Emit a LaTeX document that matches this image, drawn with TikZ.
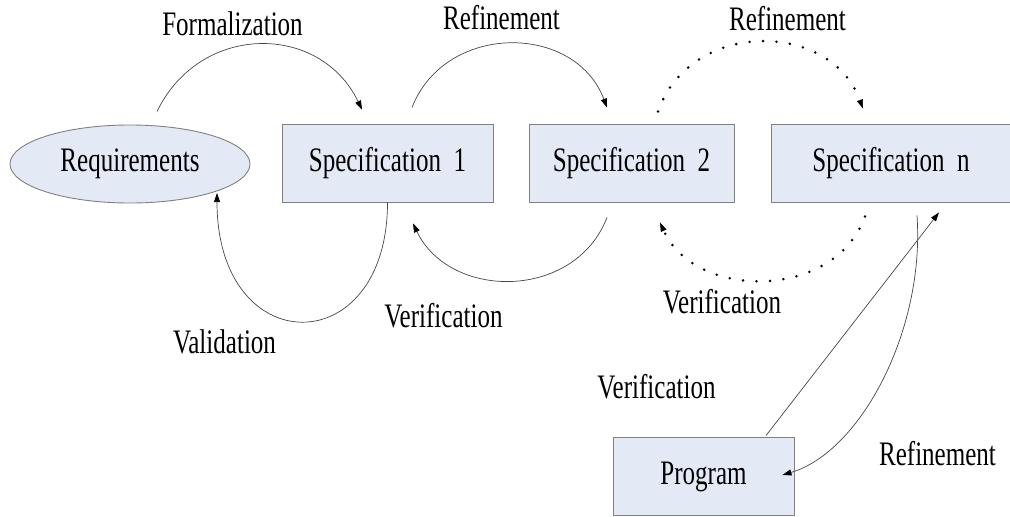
\documentclass[tikz,border=0pt]{standalone}
\usepackage{fontspec}
\setmainfont[FakeStretch=0.73]{Liberation Serif}
\usetikzlibrary{arrows.meta,shapes.geometric}
\definecolor{boxfill}{RGB}{228,234,245}
\definecolor{boxline}{RGB}{128,128,128}
\definecolor{arcline}{RGB}{70,70,70}
\tikzset{
  base/.style={font=\fontsize{34.3}{37}\selectfont, inner sep=0pt, text=black},
  stepbox/.style={base, rectangle, draw=boxline, line width=0.9pt, fill=boxfill},
  reqbox/.style={base, ellipse, draw=boxline, line width=0.9pt, fill=boxfill, minimum width=240pt, minimum height=78pt},
  lbl/.style={base, anchor=base},
  arr/.style={draw=arcline, line width=0.7pt, -{Triangle[length=9pt,width=6pt,black]}},
  dotarr/.style={draw=black, line width=2.8pt, line cap=round, dash pattern=on 0pt off 13.5pt,
     -{Triangle[length=9pt,width=6pt,line width=0.5pt,black]}},
}
\begin{document}
\begin{tikzpicture}[x=1pt,y=-1pt]
\useasboundingbox (0,0) rectangle (1010,517);
% nodes
\node[reqbox] (req) at (130,164) {Requirements};
\node[stepbox, minimum width=211pt, minimum height=78pt] (s1) at (387.5,163) {Specification\ \ 1};
\node[stepbox, minimum width=205pt, minimum height=78pt] (s2) at (631.5,163) {Specification\ \ 2};
\node[stepbox, minimum width=240pt, minimum height=78pt] (sn) at (891,163) {Specification\ \ n};
\node[stepbox, minimum width=181pt, minimum height=78pt] (prog) at (703.5,476.5) {Program};
% labels
\node[lbl] (lf) at (232.5,35) {Formalization};
\node[lbl] (lr1) at (501.5,29) {Refinement};
\node[lbl] (lr2) at (787.5,30) {Refinement};
\node[lbl] (lval) at (224.5,353) {Validation};
\node[lbl] (lv1) at (443.5,327) {Verification};
\node[lbl] (lv2) at (722,313) {Verification};
\node[lbl] (lv3) at (656.5,398) {Verification};
\node[lbl] (lr3) at (937.5,465) {Refinement};
% connector end points
\coordinate (f1) at ([shift={(27,-13)}]req.north);
\coordinate (f2) at ([shift={(-25.5,-14)}]s1.north);
\coordinate (r1a) at ([shift={(24.5,-16)}]s1.north);
\coordinate (r1b) at ([shift={(-24.5,-16)}]s2.north);
\coordinate (r2a) at ([shift={(26.5,-12)}]s2.north);
\coordinate (r2b) at ([shift={(-28,-15)}]sn.north);
\coordinate (va) at (s1.south);
\coordinate (vb) at ([shift={(87,29)}]req.center);
\coordinate (v1a) at ([shift={(-24.5,15)}]s2.south);
\coordinate (v1b) at ([shift={(25.5,21)}]s1.south);
\coordinate (v2a) at ([shift={(-26,14)}]sn.south);
\coordinate (v2b) at ([shift={(28.5,20)}]s2.south);
\coordinate (v3a) at ([shift={(62.5,-1.5)}]prog.north);
\coordinate (v3b) at ([shift={(48,10)}]sn.south);
\coordinate (r3a) at ([shift={(26,13)}]sn.south);
\coordinate (r3b) at ([shift={(-12,-1.5)}]prog.east);
% connectors
\draw[arr] (f1) .. controls +(43,-89) and +(-42,-87) .. (f2);
\draw[arr] (r1a) .. controls +(33,-85) and +(-32,-85) .. (r1b);
\draw[dotarr] (r2a) .. controls +(32,-92) and +(-33,-89) .. (r2b);
\draw[arr] (va) .. controls +(0,160) and +(0,169) .. (vb);
\draw[arr] (v1a) .. controls +(-32,83) and +(37,77) .. (v1b);
\draw[dotarr] (v2a) .. controls +(-30,84) and +(35,78) .. (v2b);
\draw[arr] (v3a) -- (v3b);
\draw[arr] (r3a) .. controls +(8,115) and +(78,-23) .. (r3b);
\end{tikzpicture}
\end{document}
